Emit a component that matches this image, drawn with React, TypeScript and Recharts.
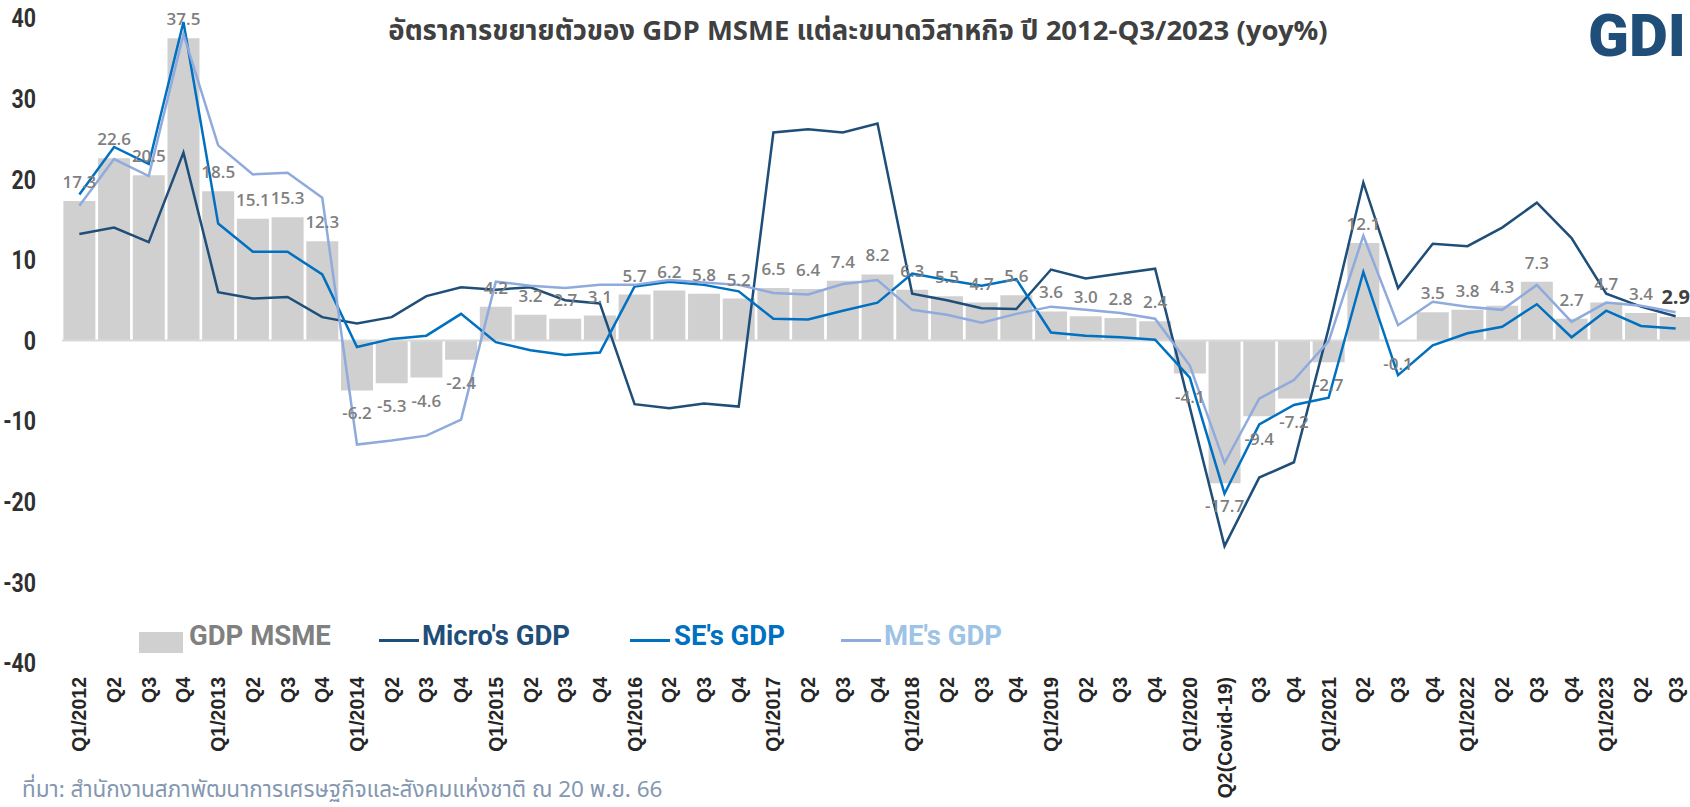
import React from 'react';
import { ComposedChart, Bar, Line, XAxis, YAxis, ReferenceLine, LabelList } from 'recharts';

// quarter labels, Q1/2012 .. Q3/2023
const quarters = [
  'Q1/2012', 'Q2', 'Q3', 'Q4',
  'Q1/2013', 'Q2', 'Q3', 'Q4',
  'Q1/2014', 'Q2', 'Q3', 'Q4',
  'Q1/2015', 'Q2', 'Q3', 'Q4',
  'Q1/2016', 'Q2', 'Q3', 'Q4',
  'Q1/2017', 'Q2', 'Q3', 'Q4',
  'Q1/2018', 'Q2', 'Q3', 'Q4',
  'Q1/2019', 'Q2', 'Q3', 'Q4',
  'Q1/2020', 'Q2(Covid-19)', 'Q3', 'Q4',
  'Q1/2021', 'Q2', 'Q3', 'Q4',
  'Q1/2022', 'Q2', 'Q3', 'Q4',
  'Q1/2023', 'Q2', 'Q3',
];

// yoy %
const msmeGrowth = [
  17.3, 22.6, 20.5, 37.5, 18.5, 15.1, 15.3, 12.3, -6.2, -5.3, -4.6, -2.4,
  4.2, 3.2, 2.7, 3.1, 5.7, 6.2, 5.8, 5.2, 6.5, 6.4, 7.4, 8.2,
  6.3, 5.5, 4.7, 5.6, 3.6, 3.0, 2.8, 2.4, -4.1, -17.7, -9.4, -7.2,
  -2.7, 12.1, -0.1, 3.5, 3.8, 4.3, 7.3, 2.7, 4.7, 3.4, 2.9,
];

const microGrowth = [
  13.2, 14.0, 12.2, 23.3, 6.0, 5.2, 5.4, 2.9, 2.1, 2.9, 5.5, 6.6,
  6.3, 6.6, 5.0, 4.6, -7.9, -8.4, -7.8, -8.2, 25.8, 26.2, 25.8, 26.9,
  5.8, 5.0, 4.0, 3.9, 8.8, 7.7, 8.3, 8.9, -8.3, -25.5, -17.0, -15.1,
  1.5, 19.6, 6.5, 12.0, 11.7, 14.0, 17.1, 12.7, 5.8, 4.2, 3.0,
];

const seGrowth = [
  18.1, 24.0, 21.9, 39.5, 14.5, 11.0, 11.0, 8.2, -0.8, 0.2, 0.6, 3.3,
  -0.2, -1.2, -1.8, -1.5, 6.7, 7.3, 6.9, 6.1, 2.7, 2.6, 3.7, 4.7,
  8.3, 7.5, 6.8, 7.6, 1.0, 0.6, 0.4, 0.1, -4.6, -19.0, -10.4, -8.0,
  -7.1, 8.5, -4.3, -0.6, 0.9, 1.7, 4.5, 0.4, 3.7, 1.8, 1.5,
];

const meGrowth = [
  16.7, 22.5, 20.4, 38.0, 24.2, 20.6, 20.8, 17.7, -12.9, -12.4, -11.8, -9.8,
  7.3, 6.8, 6.5, 6.9, 6.9, 7.5, 7.2, 6.9, 5.9, 5.7, 7.0, 7.5,
  3.8, 3.2, 2.2, 3.3, 4.2, 3.8, 3.4, 2.7, -3.1, -15.2, -7.2, -4.9,
  -0.1, 13.0, 1.9, 4.8, 4.2, 3.8, 6.9, 2.3, 4.7, 4.3, 3.5,
];

const yTicks = [40, 30, 20, 10, 0, -10, -20, -30, -40];

const data = quarters.map((q, i) => ({
  q,
  msme: msmeGrowth[i],
  micro: microGrowth[i],
  se: seGrowth[i],
  me: meGrowth[i],
}));

const CONDENSED = "Roboto, 'Noto Sans', sans-serif";
const BAR_GRAY = '#d0d0d0';
const MICRO = '#1f4e79';
const SE = '#0070c0';
const ME = '#8faadc';

const QuarterTick = (props: any) => {
  const { x, y, payload } = props;
  return (
    <g transform={`translate(${x},${y})`}>
      <text
        transform="rotate(-90)"
        textAnchor="end"
        dy="0.36em"
        fontSize={19.5}
        fontWeight="bold"
        fill="#262626"
        fontFamily="'Liberation Sans', Arial, sans-serif"
      >
        {payload.value}
      </text>
    </g>
  );
};

// squeezed bold digits, like the condensed face of the original
const ValueTick = (props: any) => {
  const { x, y, payload } = props;
  return (
    <g transform={`translate(${x},${y}) scale(0.82,1)`}>
      <text
        textAnchor="end"
        dy="0.36em"
        fontSize={26}
        fontWeight="bold"
        fill="#303030"
        fontFamily={CONDENSED}
      >
        {payload.value}
      </text>
    </g>
  );
};

const barLabel = (props: any) => {
  const vb = props.viewBox || props;
  const x = vb.x ?? props.x;
  const y = vb.y ?? props.y;
  const w = vb.width ?? props.width ?? 0;
  const h = vb.height ?? props.height ?? 0;
  const value = Number(props.value);
  const top = Math.min(y, y + h);
  const bottom = Math.max(y, y + h);
  const last = props.index === quarters.length - 1;
  const ty = value >= 0 ? top - 13 : bottom + 29;
  return (
    <text
      x={x + w / 2}
      y={ty}
      textAnchor="middle"
      fontSize={last ? 20 : 17}
      fontWeight={last ? 700 : 600}
      fill={last ? '#404040' : '#7f7f7f'}
      fontFamily="'Open Sans', 'Noto Sans', sans-serif"
    >
      {value.toFixed(1)}
    </text>
  );
};

const legendText = {
  position: 'absolute' as const,
  top: 621,
  fontFamily: CONDENSED,
  fontWeight: 'bold' as const,
  fontSize: 27.5,
  lineHeight: '30px',
  whiteSpace: 'nowrap' as const,
};

const legendLine = (left: number, color: string) => (
  <div style={{ position: 'absolute', left, top: 639, width: 40, height: 3, background: color }} />
);

export default function App() {
  return (
    <div
      style={{
        position: 'absolute',
        left: 0,
        top: 0,
        width: 1690,
        height: 807,
        overflow: 'hidden',
        background: '#fff',
      }}
    >
      <ComposedChart
        width={1694}
        height={807}
        data={data}
        margin={{ top: 18, right: 1, bottom: 0, left: 0 }}
        barCategoryGap="4%"
      >
        <XAxis
          dataKey="q"
          interval={0}
          axisLine={false}
          tickLine={false}
          tickSize={0}
          tickMargin={14}
          height={144}
          tick={<QuarterTick />}
        />
        <YAxis
          domain={[-40, 40]}
          ticks={yTicks}
          width={62}
          axisLine={false}
          tickLine={false}
          tickSize={0}
          tickMargin={26}
          tick={<ValueTick />}
        />
        <ReferenceLine y={0} stroke="#d9d9d9" strokeWidth={2} />
        <Bar dataKey="msme" fill={BAR_GRAY} isAnimationActive={false}>
          <LabelList dataKey="msme" content={barLabel} />
        </Bar>
        <Line type="linear" dataKey="micro" stroke={MICRO} strokeWidth={2.5} dot={false} isAnimationActive={false} />
        <Line type="linear" dataKey="se" stroke={SE} strokeWidth={2.5} dot={false} isAnimationActive={false} />
        <Line type="linear" dataKey="me" stroke={ME} strokeWidth={2.5} dot={false} isAnimationActive={false} />
      </ComposedChart>

      {/* title */}
      <div
        style={{
          position: 'absolute',
          left: 358,
          width: 1000,
          top: 11,
          textAlign: 'center',
          fontFamily: "'Noto Sans Thai', 'Noto Sans', sans-serif",
          fontWeight: 'bold',
          fontSize: 27.5,
          color: '#404040',
          whiteSpace: 'nowrap',
        }}
      >
        อัตราการขยายตัวของ GDP MSME แต่ละขนาดวิสาหกิจ ปี 2012-Q3/2023 (yoy%)
      </div>

      {/* logo */}
      <svg style={{ position: 'absolute', left: 1586, top: 0 }} width={104} height={76}>
        <text
          x={2}
          y={56}
          fontFamily="Roboto, 'Open Sans', sans-serif"
          fontWeight={900}
          fontSize={60}
          fill={MICRO}
        >
          GDI
        </text>
      </svg>

      {/* legend */}
      <div style={{ position: 'absolute', left: 139, top: 632, width: 44, height: 21, background: BAR_GRAY }} />
      <div style={{ ...legendText, left: 189, color: '#808080' }}>GDP MSME</div>
      {legendLine(379, MICRO)}
      <div style={{ ...legendText, left: 422, color: MICRO }}>Micro's GDP</div>
      {legendLine(630, SE)}
      <div style={{ ...legendText, left: 674, color: SE }}>SE's GDP</div>
      {legendLine(841, ME)}
      <div style={{ ...legendText, left: 884, color: '#9dc3e6' }}>ME's GDP</div>

      {/* source */}
      <div
        style={{
          position: 'absolute',
          left: 22,
          top: 775,
          fontFamily: "'Noto Sans Thai', 'Noto Sans', sans-serif",
          fontSize: 22.5,
          lineHeight: '31px',
          color: '#8497b0',
          whiteSpace: 'nowrap',
        }}
      >
        ที่มา: สำนักงานสภาพัฒนาการเศรษฐกิจและสังคมแห่งชาติ ณ 20 พ.ย. 66
      </div>
    </div>
  );
}
